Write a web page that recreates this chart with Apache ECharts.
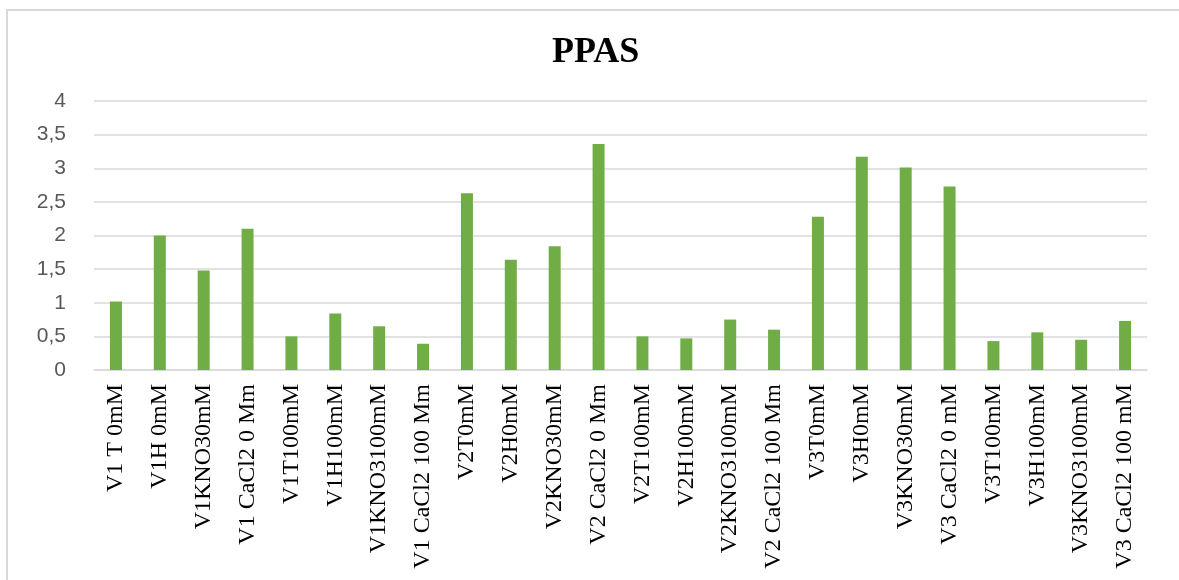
<!DOCTYPE html>
<html>
<head>
<meta charset="utf-8">
<script src="https://cdn.jsdelivr.net/npm/echarts@6/dist/echarts.min.js"></script>
<style>
  html, body { margin: 0; padding: 0; background: #ffffff; }
  #chart { width: 1179px; height: 580px; }
</style>
</head>
<body>
<div id="chart"></div>
<script>
// Treatments (variety + salt + concentration)
const categories = [
  "V1 T 0mM", "V1H 0mM", "V1KNO30mM", "V1 CaCl2 0 Mm",
  "V1T100mM", "V1H100mM", "V1KNO3100mM", "V1 CaCl2 100 Mm",
  "V2T0mM", "V2H0mM", "V2KNO30mM", "V2 CaCl2 0 Mm",
  "V2T100mM", "V2H100mM", "V2KNO3100mM", "V2 CaCl2 100 Mm",
  "V3T0mM", "V3H0mM", "V3KNO30mM", "V3 CaCl2 0 mM",
  "V3T100mM", "V3H100mM", "V3KNO3100mM", "V3 CaCl2 100 mM"
];

// PPAS values per treatment
const ppas = [
  1.02, 2.00, 1.48, 2.10,
  0.50, 0.84, 0.65, 0.39,
  2.63, 1.64, 1.84, 3.36,
  0.50, 0.47, 0.75, 0.60,
  2.28, 3.17, 3.01, 2.73,
  0.43, 0.56, 0.45, 0.73
];

const yMin = 0, yMax = 4, yStep = 0.5;

const chart = echarts.init(document.getElementById('chart'), null, { renderer: 'canvas' });

chart.setOption({
  backgroundColor: '#ffffff',
  animation: false,
  title: {
    text: 'PPAS',
    left: 547,
    top: 30,
    textStyle: {
      fontFamily: '"Liberation Serif", "DejaVu Serif", serif',
      fontWeight: 'bold',
      fontSize: 36,
      color: '#000000'
    }
  },
  graphic: [{
    type: 'rect',
    shape: { x: 7, y: 10, width: 1200, height: 600 },
    style: { fill: 'none', stroke: '#d9d9d9', lineWidth: 2 },
    silent: true,
    z: -1
  }],
  grid: { left: 94, right: 32, top: 101, bottom: 210, containLabel: false },
  xAxis: {
    type: 'category',
    data: categories,
    axisLine: { show: true, lineStyle: { color: '#d9d9d9', width: 1.5 } },
    axisTick: { show: false },
    axisLabel: {
      interval: 0,
      rotate: 90,
      margin: 14,
      color: '#000000',
      fontFamily: '"Liberation Serif", "DejaVu Serif", serif',
      fontSize: 24
    }
  },
  yAxis: {
    type: 'value',
    min: yMin,
    max: yMax,
    interval: yStep,
    axisLine: { show: false },
    axisTick: { show: false },
    splitLine: { lineStyle: { color: '#d9d9d9', width: 1.5 } },
    axisLabel: {
      margin: 28,
      color: '#595959',
      fontFamily: '"Liberation Sans", Arial, sans-serif',
      fontSize: 21,
      formatter: v => String(v).replace('.', ',')
    }
  },
  series: [{
    type: 'bar',
    data: ppas,
    barWidth: 12,
    itemStyle: { color: '#70ad47' }
  }]
});
</script>
</body>
</html>
